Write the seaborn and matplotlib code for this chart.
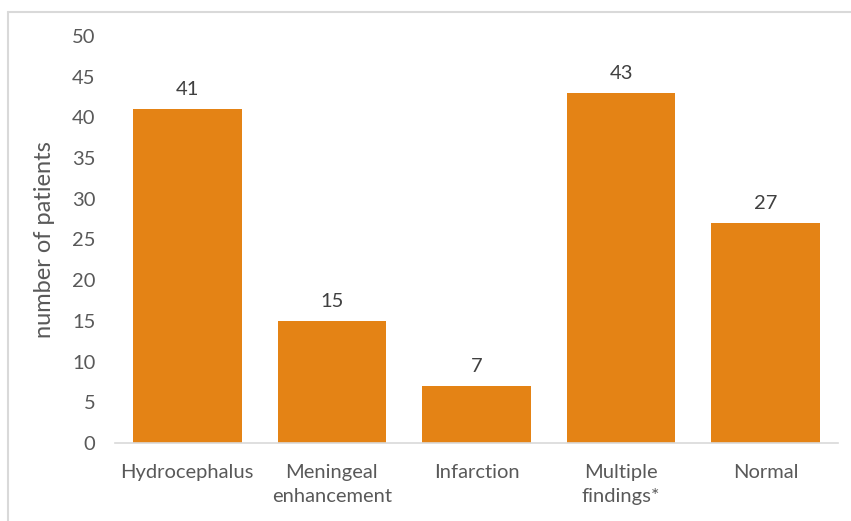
import matplotlib
matplotlib.use("Agg")
import matplotlib.pyplot as plt
import seaborn as sns
import pandas as pd
from matplotlib.lines import Line2D
from matplotlib.ticker import FixedLocator, MultipleLocator

categories = ["Hydrocephalus", "Meningeal\nenhancement", "Infarction", "Multiple\nfindings*", "Normal"]
values = [41, 15, 7, 43, 27]

df = pd.DataFrame({"category": categories, "patients": values})

sns.set_theme(style="white")
plt.rcParams["font.family"] = ["Lato", "DejaVu Sans"]

W, H = 851, 521
fig = plt.figure(figsize=(W / 100, H / 100), dpi=100)
ax = fig.add_axes([115 / W, 1 - 443 / H, (838 - 115) / W, (443 - 36) / H])

bar_color = "#E48315"
text_color = "#595959"
axis_color = "#D9D9D9"

sns.barplot(data=df, x="category", y="patients", color=bar_color, saturation=1,
            width=0.75, ax=ax, edgecolor="none")

ax.set_ylim(0, 50)
ax.set_xlim(-0.5, len(categories) - 0.5)
ax.yaxis.set_major_locator(MultipleLocator(5))
ax.tick_params(axis="y", length=0, pad=14, labelsize=14.5, labelcolor=text_color)
ax.tick_params(axis="x", which="major", length=0, pad=15, labelsize=14.5, labelcolor=text_color)
ax.xaxis.set_minor_locator(FixedLocator([i - 0.5 for i in range(len(categories) + 1)]))
ax.tick_params(axis="x", which="minor", length=6, width=1.2, color=axis_color, direction="out")
for lbl in ax.get_xticklabels():
    lbl.set_linespacing(1.5)

for s in ["top", "right", "left"]:
    ax.spines[s].set_visible(False)
ax.spines["bottom"].set_color(axis_color)
ax.spines["bottom"].set_linewidth(1.2)

ax.set_xlabel("")
ax.set_ylabel("number of patients", fontsize=17, color=text_color, labelpad=12)

for p, v in zip(ax.patches, values):
    ax.annotate(f"{v}", (p.get_x() + p.get_width() / 2, p.get_height()),
                xytext=(0, 8), textcoords="offset points", ha="center", va="bottom",
                fontsize=14.5, color="#404040")

# outer chart border (left and top visible)
fig.add_artist(Line2D([7.5 / W, 7.5 / W], [0, 1 - 11.5 / H], transform=fig.transFigure,
                      color=axis_color, lw=1.5))
fig.add_artist(Line2D([7.5 / W, 1], [1 - 11.5 / H, 1 - 11.5 / H], transform=fig.transFigure,
                      color=axis_color, lw=1.5))

fig.savefig("out.png", dpi=100, facecolor="white")
